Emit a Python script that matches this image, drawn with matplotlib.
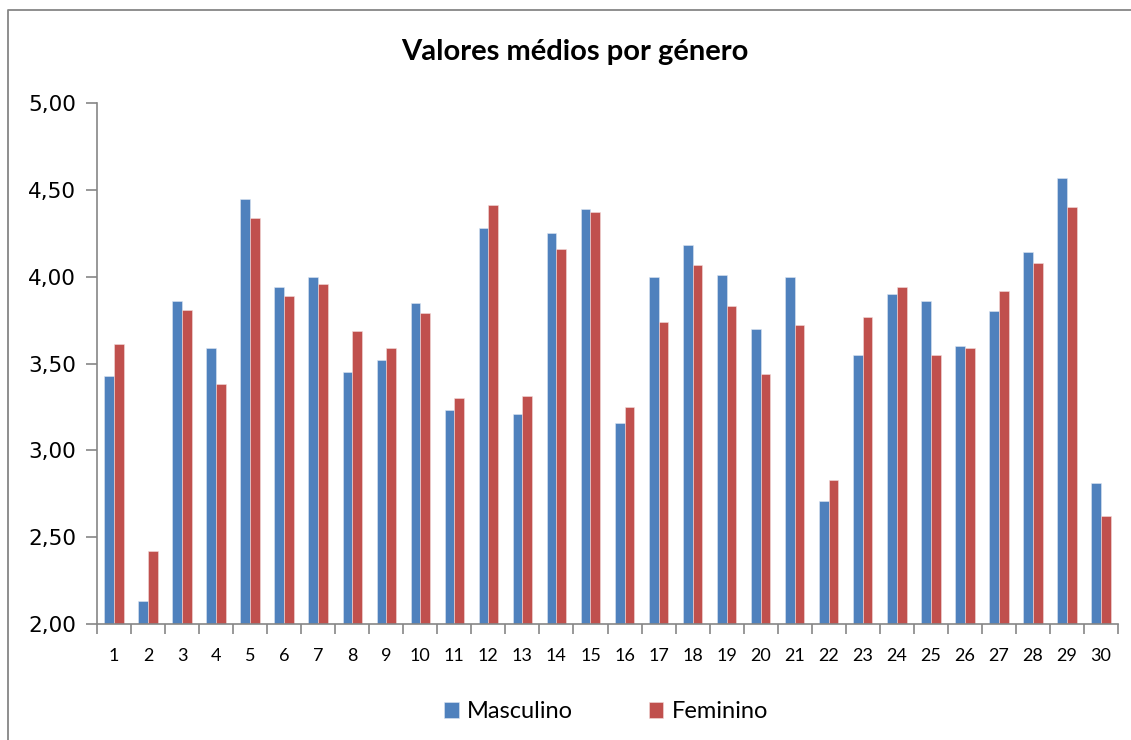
import matplotlib.pyplot as plt
import numpy as np
from matplotlib.ticker import FuncFormatter

plt.rcParams['font.family'] = ['Lato', 'DejaVu Sans']

# mean values per item
items = [str(i) for i in range(1, 31)]
masculino = [3.43, 2.13, 3.86, 3.59, 4.45, 3.94, 4.00, 3.45, 3.52, 3.85,
             3.23, 4.28, 3.21, 4.25, 4.39, 3.16, 4.00, 4.18, 4.01, 3.70,
             4.00, 2.71, 3.55, 3.90, 3.86, 3.60, 3.80, 4.14, 4.57, 2.81]
feminino = [3.61, 2.42, 3.81, 3.38, 4.34, 3.89, 3.96, 3.69, 3.59, 3.79,
            3.30, 4.41, 3.31, 4.16, 4.37, 3.25, 3.74, 4.07, 3.83, 3.44,
            3.72, 2.83, 3.77, 3.94, 3.55, 3.59, 3.92, 4.08, 4.40, 2.62]
yticks = [2.0, 2.5, 3.0, 3.5, 4.0, 4.5, 5.0]

blue = '#4F81BD'
red = '#C0504D'
grey = '#868686'

W, H = 1131, 740
fig = plt.figure(figsize=(W / 100, H / 100), dpi=100)
ax = fig.add_axes([97 / W, 1 - 624 / H, (1118 - 97) / W, (624 - 103) / H])

x = np.arange(1, len(items) + 1)
bw = 0.286
base = 2.0
ax.bar(x - bw / 2, np.array(masculino) - base, bw, bottom=base, color=blue,
       edgecolor='#dce6f2', linewidth=0.4, label='Masculino')
ax.bar(x + bw / 2, np.array(feminino) - base, bw, bottom=base, color=red,
       edgecolor='#f2dcdb', linewidth=0.4, label='Feminino')

ax.set_xlim(0.5, len(items) + 0.5)
ax.set_ylim(2.0, 5.0)
ax.set_yticks(yticks)
ax.yaxis.set_major_formatter(FuncFormatter(lambda v, p: f'{v:.2f}'.replace('.', ',')))
ax.tick_params(axis='y', length=8, width=1.2, color=grey, labelsize=15.5, pad=7)
for lab in ax.get_yticklabels():
    lab.set_family('DejaVu Sans')

ax.set_xticks(x)
ax.set_xticklabels(items)
ax.set_xticks(np.arange(0.5, len(items) + 1), minor=True)
ax.tick_params(axis='x', which='major', length=0, labelsize=13, pad=17)
ax.tick_params(axis='x', which='minor', length=7, width=1.2, color=grey)

for s in ['top', 'right']:
    ax.spines[s].set_visible(False)
for s in ['left', 'bottom']:
    ax.spines[s].set_color(grey)
    ax.spines[s].set_linewidth(1.2)

fig.text(575 / W, 1 - 52 / H, 'Valores médios por género',
         ha='center', va='center', fontsize=21, fontweight='bold')

leg = fig.legend(loc='center', bbox_to_anchor=(606 / W, 1 - 712 / H), ncol=2,
                 frameon=False, fontsize=17, handlelength=0.63, handleheight=0.63,
                 handletextpad=0.35, columnspacing=3.2)

# outer chart border
fig.add_artist(plt.Line2D([8 / W, 8 / W, 1], [0, 1 - 10 / H, 1 - 10 / H],
                          transform=fig.transFigure, color=grey, linewidth=1.3))

fig.savefig('out.png', dpi=100)
